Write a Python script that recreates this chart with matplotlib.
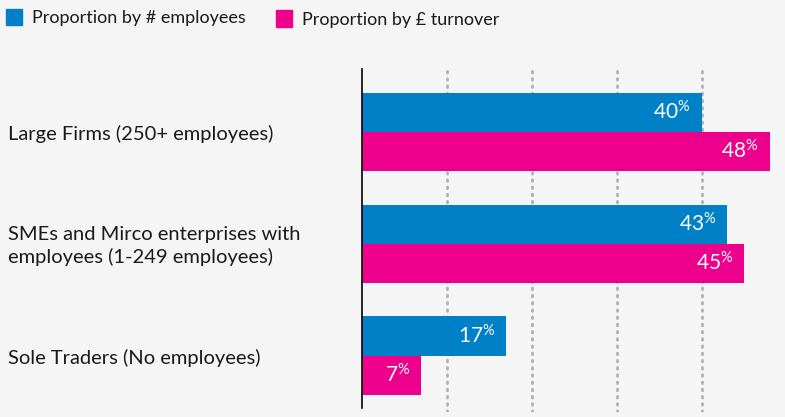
import numpy as np
import matplotlib
matplotlib.use("Agg")
import matplotlib.pyplot as plt
from matplotlib.patches import Rectangle

# categories and shares (%)
categories = ["Large Firms (250+ employees)",
              "SMEs and Mirco enterprises with\nemployees (1-249 employees)",
              "Sole Traders (No employees)"]
by_employees = [40, 43, 17]
by_turnover = [48, 45, 7]
series_names = ["Proportion by # employees", "Proportion by £ turnover"]

blue = "#0080c6"
pink = "#ec008c"
bg = "#f5f5f5"

plt.rcParams["font.family"] = ["Lato", "DejaVu Sans"]
plt.rcParams["mathtext.default"] = "regular"

fig = plt.figure(figsize=(7.85, 4.17), dpi=100, facecolor=bg)
ax = fig.add_axes([362 / 785, 5 / 417, 1 - 362 / 785, (412 - 66) / 417])
ax.set_facecolor(bg)

y = np.arange(len(categories))
h = 0.35
ax.barh(y - h / 2, by_employees, height=h, color=blue, zorder=3)
ax.barh(y + h / 2, by_turnover, height=h, color=pink, zorder=3)

# value labels inside the bar ends
for vals, off in [(by_employees, -h / 2), (by_turnover, h / 2)]:
    for yi, v in zip(y, vals):
        ax.annotate(f"{v}$^{{\\%}}$", xy=(v, yi + off), xytext=(-8, 0),
                    textcoords="offset points", ha="right", va="center",
                    color="white", fontsize=15, zorder=4)

ax.set_xlim(0, 49.8)
ax.set_ylim(2.503, -0.587)

for gx in [10, 20, 30, 40]:
    ax.axvline(gx, color="#b0b0b0", lw=2, ls=(0, (0.6, 2.0)),
               dash_capstyle="round", zorder=1)

for s in ax.spines.values():
    s.set_visible(False)
ax.plot([0, 0], [2.47, -0.56], color="black", lw=1.2, zorder=5, clip_on=False)
ax.set_xticks([])
ax.set_yticks([])

# category labels on the left
for yi, lab in zip(y, categories):
    ax.annotate(lab, xy=(8, yi + 0.02), xycoords=("figure pixels", "data"),
                fontsize=14.5, color="#1a1a1a", va="center", ha="left",
                linespacing=1.3, annotation_clip=False)

# legend
fig.patches.append(Rectangle((6 / 785, 1 - 25 / 417), 16 / 785, 16 / 417,
                             transform=fig.transFigure, color=blue, figure=fig))
fig.text(32 / 785, 1 - 18 / 417, series_names[0], fontsize=13,
         color="#1a1a1a", va="center", ha="left")
fig.patches.append(Rectangle((276 / 785, 1 - 27 / 417), 16 / 785, 17 / 417,
                             transform=fig.transFigure, color=pink, figure=fig))
fig.text(302 / 785, 1 - 20 / 417, series_names[1], fontsize=13,
         color="#1a1a1a", va="center", ha="left")

fig.savefig("out.png", dpi=100, facecolor=bg)
